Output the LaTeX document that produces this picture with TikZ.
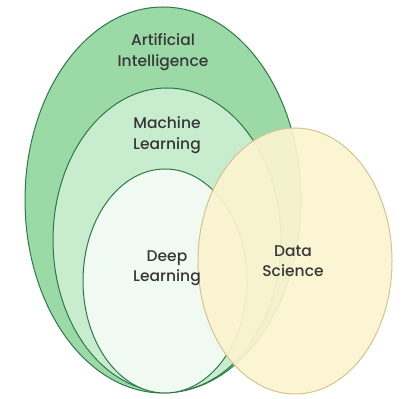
\documentclass[tikz,border=0pt]{standalone}
\usepackage{fontspec}
\setmainfont{Poppins}[UprightFont={* Medium}]
\usepackage{tikz}
\usetikzlibrary{positioning}

\definecolor{aifill}{RGB}{155,217,166}
\definecolor{mlfill}{RGB}{200,236,206}
\definecolor{dlfill}{RGB}{240,250,242}
\definecolor{dsfill}{RGB}{251,244,208}
\definecolor{greenline}{RGB}{45,120,72}
\definecolor{dsline}{RGB}{214,196,140}
\definecolor{labeltext}{RGB}{55,55,55}

\begin{document}
\begin{tikzpicture}[x=1pt, y=1pt,
	set/.style = {draw=greenline, line width=1pt},
	label/.style = {align=center, text=labeltext, font=\fontsize{15.5}{20.5}\selectfont}]
	\useasboundingbox (0,0) rectangle (403,398);
	% nested sets
	\draw[set, fill=aifill] (163,198) ellipse [x radius=138, y radius=193];
	\draw[set, fill=mlfill] (167,158) ellipse [x radius=114, y radius=152];
	\draw[set, fill=dlfill] (165,117) ellipse [x radius=82, y radius=112];
	% data science on top
	\draw[draw=dsline, line width=1pt, fill=dsfill, fill opacity=0.93] (295,137) ellipse [x radius=97, y radius=133];
	% labels
	\node[label] (ai) at (163,346) {Artificial\\Intelligence};
	\node[label] (ml) at (167,263) {Machine\\Learning};
	\node[label] (dl) at (167,130) {Deep\\Learning};
	\node[label] (ds) at (293,137) {Data\\Science};
\end{tikzpicture}
\end{document}
